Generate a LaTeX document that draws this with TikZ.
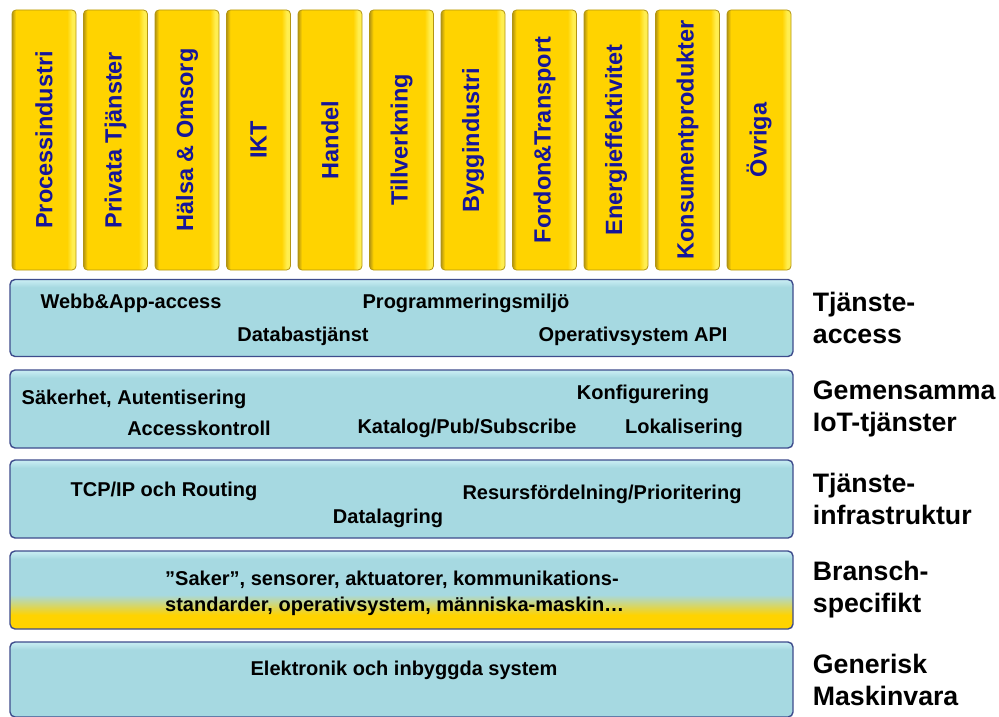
\documentclass[tikz,border=0pt]{standalone}
\usepackage{fontspec}
\setmainfont{Liberation Sans}
\usetikzlibrary{positioning}
\definecolor{colfill}{HTML}{FFD300}
\definecolor{coledge}{HTML}{B39512}
\definecolor{colhi}{HTML}{FFEE50}
\definecolor{coltxt}{HTML}{15159A}
\definecolor{barfill}{HTML}{A6D9E1}
\definecolor{baredge}{HTML}{3E4C8C}
\definecolor{barhi}{HTML}{C4EAF0}
\pgfdeclarehorizontalshading{colbevel}{100bp}{color(0bp)=(coledge); color(25bp)=(coledge);
  color(28bp)=(colfill); color(68bp)=(colfill); color(72bp)=(colhi); color(75bp)=(colhi); color(100bp)=(colhi)}
\pgfdeclareverticalshading{barbevel}{100bp}{color(0bp)=(barfill); color(70bp)=(barfill);
  color(74bp)=(barhi); color(100bp)=(barhi)}
\pgfdeclareverticalshading{branschfade}{100bp}{color(0bp)=(colfill); color(34bp)=(colfill);
  color(47bp)=(barfill); color(70bp)=(barfill); color(74bp)=(barhi); color(100bp)=(barhi)}
\tikzset{
  colbox/.style={rectangle, rounded corners=4pt, draw=coledge, line width=0.8pt,
    shading=colbevel, minimum width=64pt, minimum height=260pt, inner sep=0pt},
  coltext/.style={rotate=90, text=coltxt, font=\fontsize{23.5}{26}\selectfont\bfseries, inner sep=0pt},
  barbox/.style={rectangle, rounded corners=5pt, draw=baredge, line width=1.4pt,
    shading=barbevel, minimum width=783pt, inner sep=0pt},
  bartext/.style={font=\fontsize{20}{26}\selectfont\bfseries, inner sep=0pt},
  sidetext/.style={font=\fontsize{26.7}{32}\selectfont\bfseries, align=left, inner sep=0pt}
}

\begin{document}
\begin{tikzpicture}[x=1pt, y=-1pt]
  \useasboundingbox (0,0) rectangle (999,717);

  % ---- Branch columns ------------------------------------------------------
  \foreach \name [count=\i] in {Processindustri, Privata Tjänster, Hälsa \& Omsorg,
      IKT, Handel, Tillverkning, Byggindustri, Fordon\&Transport,
      Energieffektivitet, Konsumentprodukter, Övriga} {
    \node[colbox] (col\i) at ({44+71.5*(\i-1)}, 140) {};
    \node[coltext] (colt\i) at (col\i) {\name};
  }

  % ---- Layers --------------------------------------------------------------
  \node[barbox, minimum height=77pt] (bar1) at (401.5, 318) {};
  \node[barbox, minimum height=78pt] (bar2) at (401.5, 409) {};
  \node[barbox, minimum height=78pt] (bar3) at (401.5, 499) {};
  \node[barbox, minimum height=78pt, shading=branschfade] (bar4) at (401.5, 590) {};
  \node[barbox, minimum height=75pt] (bar5) at (401.5, 679.5) {};

  % ---- Layer contents ------------------------------------------------------
  \node[bartext] (webb) at (131, 303) {Webb\&App-access};
  \node[bartext] (prog) at (466, 303) {Programmeringsmiljö};
  \node[bartext] (dbas) at (303, 336) {Databastjänst};
  \node[bartext] (osapi) at (633, 336) {Operativsystem API};

  \node[bartext] (sak) at (134, 399) {Säkerhet, Autentisering};
  \node[bartext] (konf) at (643, 394) {Konfigurering};
  \node[bartext] (acc) at (199, 428) {Accesskontroll};
  \node[bartext] (kat) at (467, 428) {Katalog/Pub/Subscribe};
  \node[bartext] (lok) at (684, 428) {Lokalisering};

  \node[bartext] (tcp) at (164, 491) {TCP/IP och Routing};
  \node[bartext] (res) at (602, 494) {Resursfördelning/Prioritering};
  \node[bartext] (dlag) at (388, 518) {Datalagring};

  \node[bartext, align=left, anchor=west] (saker) at (165, 593)
        {”Saker”, sensorer, aktuatorer, kommunikations-\\
         standarder, operativsystem, människa-maskin…};

  \node[bartext] (elek) at (404, 670) {Elektronik och inbyggda system};

  % ---- Layer names, right of each bar --------------------------------------
  \node[sidetext, right=19pt of bar1] (lbl1) {Tjänste-\\access};
  \node[sidetext, right=19pt of bar2] (lbl2) {Gemensamma\\IoT-tjänster};
  \node[sidetext, right=19pt of bar3] (lbl3) {Tjänste-\\infrastruktur};
  \node[sidetext, right=19pt of bar4] (lbl4) {Bransch-\\specifikt};
  \node[sidetext, right=19pt of bar5] (lbl5) {Generisk\\Maskinvara};

\end{tikzpicture}
\end{document}
